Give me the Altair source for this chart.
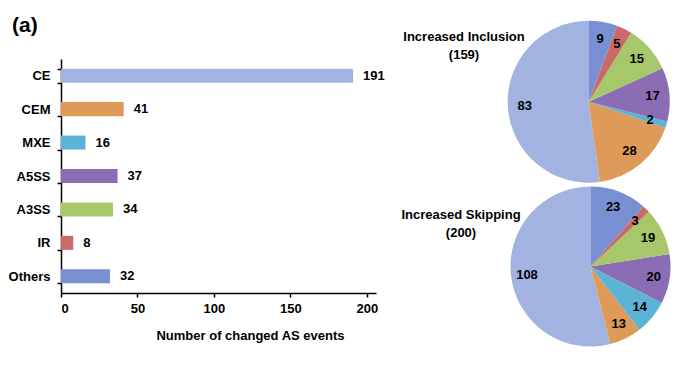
import altair as alt
import pandas as pd

categories = ["CE", "CEM", "MXE", "A5SS", "A3SS", "IR", "Others"]
counts = [191, 41, 16, 37, 34, 8, 32]
inclusion = [83, 28, 2, 17, 15, 5, 9]
skipping = [108, 13, 14, 20, 19, 3, 23]
pie_order = [6, 5, 4, 3, 2, 1, 0]  # clockwise from 12 o'clock: Others, IR, A3SS, A5SS, MXE, CEM, CE
colors = ["#A2B3E1", "#DE9A58", "#5BB3D6", "#8A6DB4", "#A6C86A", "#C96A68", "#7890D2"]
x_ticks = [0, 50, 100, 150, 200]
pie_titles = [["Increased Inclusion", "(159)"], ["Increased Skipping", "(200)"]]
panel_label = "(a)"

FONT = "Liberation Sans"

bar_df = pd.DataFrame({"cat": categories, "n": counts})
inc_df = pd.DataFrame({"cat": categories, "val": inclusion, "ord": pie_order})
skp_df = pd.DataFrame({"cat": categories, "val": skipping, "ord": pie_order})
one_df = pd.DataFrame({"k": [0]})

cscale = alt.Scale(domain=categories, range=colors)

bars = alt.Chart(bar_df).mark_bar().encode(
    y=alt.Y("cat:N", sort=categories,
            scale=alt.Scale(paddingInner=0.58, paddingOuter=0.29),
            axis=alt.Axis(title=None, tickBand="extent", tickSize=4, labelPadding=7,
                          labelFontSize=13, labelFontWeight="bold", labelFont=FONT)),
    x=alt.X("n:Q", scale=alt.Scale(domain=[0, 206], nice=False),
            axis=alt.Axis(values=x_ticks, title="Number of changed AS events",
                          tickSize=4, labelPadding=5, labelFontSize=13,
                          labelFontWeight="bold", labelFont=FONT,
                          titleFontSize=13, titleFontWeight="bold", titleFont=FONT,
                          titleX=189, titleY=42, titleBaseline="middle", grid=False)),
    color=alt.Color("cat:N", scale=cscale, legend=None),
)

bar_labels = alt.Chart(bar_df).mark_text(
    align="left", baseline="middle", dx=10, fontSize=13, fontWeight="bold", font=FONT, color="black"
).encode(
    y=alt.Y("cat:N", sort=categories),
    x=alt.X("n:Q"),
    text="n:Q",
)


def pie(df, cx, cy, r):
    arc = alt.Chart(df).mark_arc(radius=r).encode(
        theta=alt.Theta("val:Q", stack=True),
        color=alt.Color("cat:N", scale=cscale, legend=None),
        order=alt.Order("ord:Q"),
        x=alt.value(cx), y=alt.value(cy),
    )
    lab = alt.Chart(df).mark_text(
        radius=64, fontSize=13, fontWeight="bold", font=FONT, color="black", baseline="middle"
    ).encode(
        theta=alt.Theta("val:Q", stack=True),
        order=alt.Order("ord:Q"),
        text="val:Q",
        x=alt.value(cx), y=alt.value(cy),
    )
    return arc, lab


arc1, lab1 = pie(inc_df, 527.7, 42.7, 81)
arc2, lab2 = pie(skp_df, 529.5, 207.5, 80)

title1 = alt.Chart(one_df).mark_text(
    fontSize=13, fontWeight="bold", font=FONT, color="black", baseline="middle", lineHeight=18
).encode(x=alt.value(403), y=alt.value(-22), text=alt.value(pie_titles[0]))
title2 = alt.Chart(one_df).mark_text(
    fontSize=13, fontWeight="bold", font=FONT, color="black", baseline="middle", lineHeight=18
).encode(x=alt.value(400), y=alt.value(156), text=alt.value(pie_titles[1]))
panel = alt.Chart(one_df).mark_text(
    fontSize=21, fontWeight="bold", font=FONT, color="black", baseline="middle", align="left"
).encode(x=alt.value(-49), y=alt.value(-33), text=alt.value(panel_label))

chart = alt.layer(
    bars, bar_labels, arc1, lab1, arc2, lab2, title1, title2, panel
).resolve_scale(theta="independent").properties(
    width=315, height=234,
    autosize=alt.AutoSizeParams(type="none"),
    padding={"left": 53, "top": 51, "right": 308, "bottom": 66},
).configure_view(stroke=None).configure_axis(
    domainColor="black", domainWidth=1.5, tickColor="black", tickWidth=1.5,
    labelColor="black", titleColor="black",
)

chart.save("out.html", embed_options={"renderer": "svg", "actions": False})
